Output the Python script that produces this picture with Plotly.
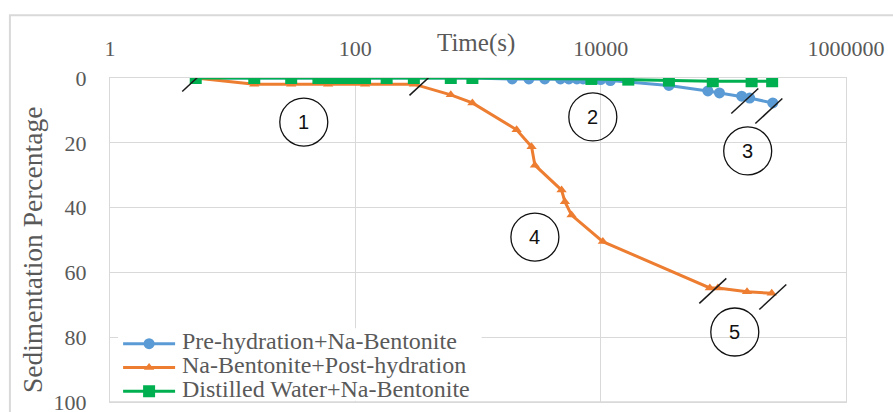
import numpy as np
import plotly.graph_objects as go

# ---- data: sedimentation percentage vs time (s) ----
time_pre = [5, 15, 30, 50, 60, 75, 90, 105, 120, 180, 300, 600, 900,
            1900, 2600, 3500, 4700, 5500, 6400, 7200, 10000, 12000,
            36000, 74800, 93000, 141000, 164000, 253000]
sed_pre = [0, 0, 0, 0, 0, 0, 0, 0, 0, 0, 0, 0, 0,
           0.3, 0.3, 0.3, 0.3, 0.3, 0.3, 0.3, 0.5, 0.8,
           2.3, 4.0, 4.6, 5.6, 6.2, 7.7]

time_post = [5, 15, 30, 60, 120, 300, 600, 900, 2065, 2733, 2910,
             4800, 5110, 5790, 10420, 77600, 90200, 156000, 248000]
sed_post = [0, 1.9, 1.9, 1.9, 1.9, 1.9, 5.2, 7.7, 16.0, 21.2, 26.9,
            34.6, 38.2, 42.3, 50.5, 64.8, 64.8, 66.0, 66.4]

time_water = [5, 15, 30, 50, 60, 75, 90, 105, 120, 180, 300, 600, 900,
              8400, 16800, 36000, 82000, 170000, 250000]
sed_water = [0, 0, 0, 0, 0, 0, 0, 0, 0, 0, 0, 0, 0,
             0.3, 0.5, 0.8, 1.0, 1.0, 1.0]

series_names = ["Pre-hydration+Na-Bentonite",
                "Na-Bentonite+Post-hydration",
                "Distilled Water+Na-Bentonite"]

x_tick_vals = [1, 100, 10000, 1000000]
x_tick_text = ["1", "100", "10000", "1000000"]
y_tick_vals = [0, 20, 40, 60, 80, 100]

# axis-break slashes (time, percentage)
break_marks = [(5, 0.3), (356, 1.5), (149600, 7.1), (235000, 10.2),
               (82100, 65.7), (253000, 67.6)]
# circled stage numbers (label, time, percentage)
stage_labels = [("1", 38, 13.6), ("2", 8630, 12.0), ("3", 158000, 22.5),
                ("4", 2910, 49.1), ("5", 124000, 78.4)]

TEXT_GRAY = "#595959"
GRID = "#d9d9d9"
SERIF = "Liberation Serif"

# plot area geometry (pixels) used to size the decorations
PLOT_W, PLOT_H = 736, 324
X_DECADES, Y_SPAN = 6, 100
px_per_decade = PLOT_W / X_DECADES
px_per_unit = PLOT_H / Y_SPAN

# legend: symbols come from the plotly legend, labels are placed beside them
LEGEND_TEXT_X = 0.0951
LEGEND_ROW_Y = [0.1883, 0.1142, 0.0401]


def xfactor(px):
    """multiplicative offset on the log time axis for a pixel distance"""
    return 10 ** (px / px_per_decade)


fig = go.Figure()
fig.add_trace(go.Scatter(
    x=time_pre, y=sed_pre, mode="lines+markers", name=" ",
    line=dict(color="#5B9BD5", width=3),
    marker=dict(symbol="circle", size=11, color="#5B9BD5")))
fig.add_trace(go.Scatter(
    x=time_post, y=sed_post, mode="lines+markers", name=" ",
    line=dict(color="#ED7D31", width=3),
    marker=dict(symbol="triangle-up", size=9, color="#ED7D31")))
fig.add_trace(go.Scatter(
    x=time_water, y=sed_water, mode="lines+markers", name=" ",
    line=dict(color="#00B050", width=3),
    marker=dict(symbol="square", size=12, color="#00B050")))

shapes = []
# white backing behind the legend (hides grid there), then the bottom frame edge on top
shapes.append(dict(type="rect", xref="paper", yref="paper",
                   x0=0.011, x1=0.505, y0=0.004, y1=0.228,
                   fillcolor="white", line=dict(width=0), layer="above"))
shapes.append(dict(type="line", xref="paper", yref="paper",
                   x0=0, x1=1, y0=0, y1=0,
                   line=dict(color=GRID, width=1.3), layer="above"))

sx, sy = xfactor(13.5), 12.5 / px_per_unit
for t, p in break_marks:
    shapes.append(dict(type="line", xref="x", yref="y",
                       x0=t / sx, x1=t * sx, y0=p + sy, y1=p - sy,
                       line=dict(color="#1a1a1a", width=1.5), layer="above"))
annotations = []
cx, cy = xfactor(24), 24 / px_per_unit
for lab, t, p in stage_labels:
    shapes.append(dict(type="circle", xref="x", yref="y",
                       x0=t / cx, x1=t * cx, y0=p - cy, y1=p + cy,
                       line=dict(color="#111111", width=1.3), layer="above"))
    annotations.append(dict(x=np.log10(t), y=p, xref="x", yref="y", text=lab,
                            showarrow=False,
                            font=dict(family="Liberation Sans", size=20, color="#111111")))

for name, ly in zip(series_names, LEGEND_ROW_Y):
    annotations.append(dict(x=LEGEND_TEXT_X, y=ly, xref="paper", yref="paper",
                            text=name, showarrow=False,
                            xanchor="left", yanchor="middle",
                            font=dict(family=SERIF, size=24, color=TEXT_GRAY)))

# outer chart frame
shapes.append(dict(type="rect", xref="paper", yref="paper",
                   x0=-0.136, x1=1.2, y0=-0.2, y1=1.194,
                   line=dict(color=GRID, width=2), layer="below"))

annotations.append(dict(x=0.497, y=1.108, xref="paper", yref="paper",
                        text="Time(s)", showarrow=False, yanchor="middle",
                        font=dict(family=SERIF, size=25, color=TEXT_GRAY)))
annotations.append(dict(x=-0.106, y=0.469, xref="paper", yref="paper",
                        text="Sedimentation Percentage", textangle=-90,
                        showarrow=False, xanchor="center", yanchor="middle",
                        font=dict(family=SERIF, size=27.5, color=TEXT_GRAY)))

fig.update_layout(
    width=893, height=412,
    margin=dict(l=110, r=47, t=78, b=10, autoexpand=False),
    paper_bgcolor="white", plot_bgcolor="white",
    font=dict(family=SERIF),
    shapes=shapes, annotations=annotations,
    showlegend=True,
    legend=dict(x=0.011, y=0.232, xanchor="left", yanchor="top",
                bgcolor="rgba(0,0,0,0)", borderwidth=0, itemwidth=52,
                font=dict(family=SERIF, size=16, color=TEXT_GRAY),
                tracegroupgap=0),
    xaxis=dict(type="log", range=[0, 6], side="top",
               tickvals=x_tick_vals, ticktext=x_tick_text,
               showgrid=True, gridcolor=GRID, gridwidth=1.3,
               showline=True, mirror=True, linecolor=GRID, linewidth=1.3,
               zeroline=False, ticks="", ticklabelstandoff=12,
               ticklabeloverflow="allow",
               tickfont=dict(family=SERIF, size=22, color=TEXT_GRAY)),
    yaxis=dict(range=[100, 0], tickvals=y_tick_vals,
               showgrid=True, gridcolor=GRID, gridwidth=1.3,
               showline=True, mirror=True, linecolor=GRID, linewidth=1.3,
               zeroline=False, ticks="", ticklabelstandoff=18,
               ticklabeloverflow="allow",
               tickfont=dict(family=SERIF, size=22, color=TEXT_GRAY)),
)

fig.write_html("out.html")
